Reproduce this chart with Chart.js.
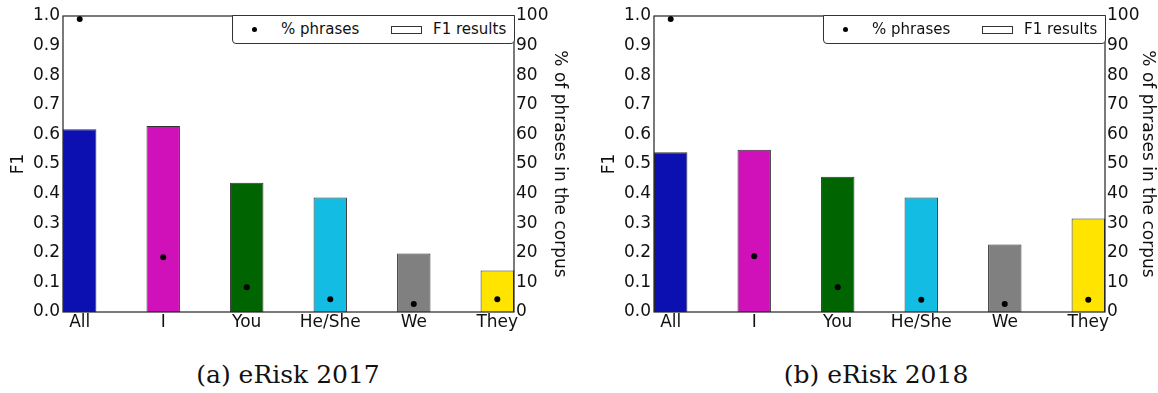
<!DOCTYPE html>
<html>
<head>
<meta charset="utf-8">
<script src="https://cdn.jsdelivr.net/npm/chart.js@4.4.1/dist/chart.umd.min.js"></script>
<style>
  body{ margin:0; width:1158px; height:393px; background:#fff; position:relative; overflow:hidden; font-family:"DejaVu Sans", sans-serif; }
  .wrap{ position:absolute; top:0; height:345px; }
  .legend{ position:absolute; top:15px; width:283px; height:29px; border:1.2px solid #333; border-radius:0 0 4px 4px; box-sizing:border-box; background:#fff; font-size:15px; color:#111; }
  .legend .dot{ position:absolute; left:19px; top:11px; width:5px; height:5px; border-radius:50%; background:#000; }
  .legend .t1{ position:absolute; left:48px; top:4px; }
  .legend .box{ position:absolute; left:158px; top:10px; width:31px; height:8px; border:1px solid #333; box-sizing:border-box; }
  .legend .t2{ position:absolute; left:200px; top:4px; }
  .cap{ position:absolute; top:360px; width:320px; text-align:center; font-family:"DejaVu Serif", serif; font-size:25px; color:#111; }
</style>
</head>
<body>
<div class="wrap" style="left:0;width:579px"><canvas id="c2017"></canvas></div>
<div class="wrap" style="left:591px;width:567px"><canvas id="c2018"></canvas></div>
<div class="legend" style="left:232px"><span class="dot"></span><span class="t1">% phrases</span><span class="box"></span><span class="t2">F1 results</span></div>
<div class="legend" style="left:823px"><span class="dot"></span><span class="t1">% phrases</span><span class="box"></span><span class="t2">F1 results</span></div>
<div class="cap" style="left:128px">(a) eRisk 2017</div>
<div class="cap" style="left:716px">(b) eRisk 2018</div>
<script>
const categories = ['All','I','You','He/She','We','They'];
const barPos = [0.2, 1.2, 2.2, 3.2, 4.2, 5.2];
const f1_2017 = [0.617, 0.628, 0.437, 0.387, 0.198, 0.14];
const pct_2017 = [99, 18.5, 8.4, 4.3, 2.7, 4.3];
const f1_2018 = [0.54, 0.548, 0.457, 0.387, 0.228, 0.316];
const pct_2018 = [99, 18.8, 8.4, 4.1, 2.7, 4.1];
const barColors = ['#0c10b0','#d010b8','#006400','#12bce2','#808080','#ffe400'];

const FONT = {family:'"DejaVu Sans", sans-serif', size:17};

// box round the plot, like the matplotlib axes frame
const framePlugin = {
  id:'frame',
  afterDatasetsDraw(chart){
    const a = chart.chartArea, ctx = chart.ctx;
    ctx.save();
    ctx.strokeStyle = '#222'; ctx.lineWidth = 1.2;
    ctx.strokeRect(a.left, a.top, a.right - a.left, a.bottom - a.top);
    ctx.restore();
  }
};

function makeChart(id, f1, pct, leftW, rightW, rightPad){
  return new Chart(document.getElementById(id), {
    type:'bar',
    data:{ datasets:[
      {type:'scatter', label:'% phrases', yAxisID:'y2',
        data:barPos.map((x,i)=>({x:x, y:pct[i]})),
        pointRadius:3, pointBackgroundColor:'#000', pointBorderWidth:0, order:0},
      {label:'F1 results', yAxisID:'y',
        data:barPos.map((x,i)=>({x:x, y:f1[i]})),
        backgroundColor:barColors, borderColor:'#333', borderWidth:1,
        barPercentage:0.4, categoryPercentage:1, order:1}
    ]},
    options:{
      responsive:true, maintainAspectRatio:false, animation:false,
      layout:{padding:{top:16, left:0, right:0, bottom:0}},
      plugins:{legend:{display:false}, tooltip:{enabled:false}},
      scales:{
        x:{type:'linear', offset:false, min:0, max:5.4, grid:{display:false, drawTicks:false}, border:{display:false},
          afterBuildTicks:s=>{ s.ticks = barPos.map(v=>({value:v})); },
          afterFit:s=>{ s.height = 33; },
          ticks:{autoSkip:false, maxRotation:0, padding:0, color:'#111', font:FONT,
            callback:(v,i)=>categories[i]}},
        y:{position:'left', min:0, max:1, grid:{display:false, drawTicks:false}, border:{display:false},
          afterFit:s=>{ s.width = leftW; },
          title:{display:true, text:'F1', color:'#111', font:FONT, padding:{top:8, bottom:0}},
          ticks:{stepSize:0.1, padding:3, color:'#111', font:FONT, callback:v=>v.toFixed(1)}},
        y2:{position:'right', min:0, max:100, grid:{display:false, drawTicks:false}, border:{display:false},
          afterFit:s=>{ s.width = rightW; },
          title:{display:true, text:'% of phrases in the corpus', color:'#111', font:FONT, padding:{top:rightPad, bottom:0}},
          ticks:{stepSize:10, padding:2, color:'#111', font:FONT}}
      }
    },
    plugins:[framePlugin]
  });
}

makeChart('c2017', f1_2017, pct_2017, 63, 65, 9);
makeChart('c2018', f1_2018, pct_2018, 63, 53, 0);
</script>
</body>
</html>
